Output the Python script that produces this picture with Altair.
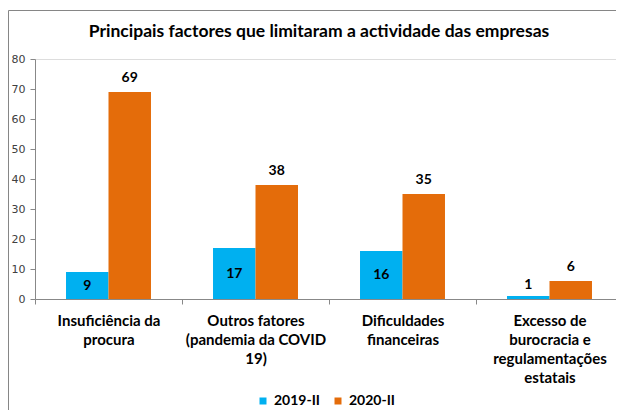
import altair as alt
import pandas as pd

# ---- data ----
categories = [
    "Insuficiência da\nprocura",
    "Outros fatores\n(pandemia da COVID\n19)",
    "Dificuldades\nfinanceiras",
    "Excesso de\nburocracia e\nregulamentações\nestatais",
]
series = ["2019-II", "2020-II"]
values_2019 = [9, 17, 16, 1]
values_2020 = [69, 38, 35, 6]
colors = ["#00B0F0", "#E46C0A"]
y_ticks = [0, 10, 20, 30, 40, 50, 60, 70, 80]
title_text = ["Principais factores que limitaram a actividade das empresas"]

rows = []
for c, a, b in zip(categories, values_2019, values_2020):
    rows.append({"cat": c, "serie": series[0], "valor": a})
    rows.append({"cat": c, "serie": series[1], "valor": b})
df = pd.DataFrame(rows)

LABEL_FONT = "Lato"
GREY = "#888888"

x_axis = alt.Axis(
    title=None,
    labelAngle=0,
    labelExpr="split(datum.label, '\\n')",
    labelFont=LABEL_FONT,
    labelFontSize=15,
    labelFontWeight="bold",
    labelColor="#000000",
    labelLineHeight=19,
    labelPadding=9,
    labelBaseline="top",
    labelOverlap=False,
    tickBand="extent",
    tickSize=5,
    tickColor=GREY,
    domainColor=GREY,
    grid=False,
)
x_scale = alt.Scale(paddingInner=0, paddingOuter=0, range=[0, 588])
y_axis = alt.Axis(
    title=None,
    values=y_ticks,
    labelOverlap=False,
    labelFont="DejaVu Sans",
    labelFontSize=11,
    labelColor="#404040",
    labelPadding=5,
    tickSize=5,
    tickColor=GREY,
    domainColor=GREY,
    grid=False,
)
y_scale = alt.Scale(domain=[0, 80], nice=False)

x_enc = alt.X("cat:N", sort=categories, scale=x_scale, axis=x_axis)
xoff_enc = alt.XOffset(
    "serie:N", sort=series, scale=alt.Scale(paddingInner=0, paddingOuter=0.73)
)


def y_of(field):
    return alt.Y(field, scale=y_scale, axis=y_axis)


base = alt.Chart(df)

bars = base.mark_bar().encode(
    x=x_enc,
    xOffset=xoff_enc,
    y=y_of("valor:Q"),
    color=alt.Color(
        "serie:N",
        sort=series,
        scale=alt.Scale(domain=series, range=colors),
        legend=alt.Legend(
            title=None,
            orient="none",
            direction="horizontal",
            legendX=221,
            legendY=335,
            symbolType="square",
            symbolSize=49,
            symbolStrokeWidth=0,
            labelFont=LABEL_FONT,
            labelFontSize=14,
            labelFontWeight="bold",
            labelColor="#000000",
            labelOffset=4,
            columnPadding=10,
        ),
    ),
)

txt_style = dict(font=LABEL_FONT, fontSize=14, fontWeight="bold", color="#000000")

labels_top = (
    base.transform_filter(alt.datum.serie == series[1])
    .mark_text(baseline="alphabetic", dy=-10, **txt_style)
    .encode(x=x_enc, xOffset=xoff_enc, y=y_of("valor:Q"), text="valor:Q")
)

labels_mid = (
    base.transform_filter((alt.datum.serie == series[0]) & (alt.datum.valor >= 5))
    .transform_calculate(meio="datum.valor / 2")
    .mark_text(baseline="middle", **txt_style)
    .encode(x=x_enc, xOffset=xoff_enc, y=y_of("meio:Q"), text="valor:Q")
)

labels_small = (
    base.transform_filter((alt.datum.serie == series[0]) & (alt.datum.valor < 5))
    .mark_text(baseline="alphabetic", dy=-7, **txt_style)
    .encode(x=x_enc, xOffset=xoff_enc, y=y_of("valor:Q"), text="valor:Q")
)

frame = (
    alt.Chart(pd.DataFrame({"f": [0]}))
    .mark_rect(fill="transparent", stroke="#868686", strokeWidth=1)
    .encode(
        x=alt.value(-26.5),
        x2=alt.value(700),
        y=alt.value(-48.5),
        y2=alt.value(500),
    )
)

title = (
    alt.Chart(pd.DataFrame({"t": title_text}))
    .mark_text(
        font=LABEL_FONT,
        fontSize=17.5,
        fontWeight="bold",
        color="#000000",
        align="center",
        baseline="alphabetic",
    )
    .encode(x=alt.value(284), y=alt.value(-22), text="t:N")
)

chart = (
    alt.layer(frame, bars, labels_top, labels_mid, labels_small, title)
    .properties(
        width=581,
        height=240,
        padding={"left": 27, "top": 51, "right": 0, "bottom": 111},
        autosize=alt.AutoSizeParams(type="none"),
    )
    .configure_view(stroke="transparent")
    .configure(background="white")
)

chart.save("out.html", embed_options={"renderer": "svg", "actions": False})
